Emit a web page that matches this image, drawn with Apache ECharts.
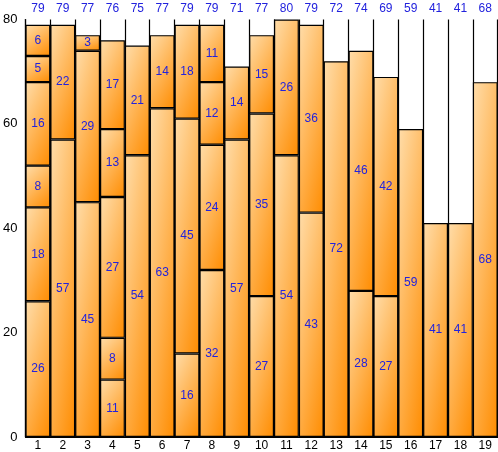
<!DOCTYPE html>
<html><head><meta charset="utf-8">
<script src="https://cdn.jsdelivr.net/npm/echarts@6/dist/echarts.min.js"></script>
<style>html,body{margin:0;padding:0;background:#fff}#c{width:498px;height:452px}</style>
</head><body><div id="c"></div>
<script>
var categories = ['1','2','3','4','5','6','7','8','9','10','11','12','13','14','15','16','17','18','19'];
var totals = [79,79,77,76,75,77,79,79,71,77,80,79,72,74,69,59,41,41,68];
var level1 = [26,57,45,11,54,63,16,32,57,27,54,43,72,28,27,59,41,41,68];
var level2 = [18,22,29,8,21,14,45,24,14,35,26,36,null,46,42,null,null,null,null];
var level3 = [8,null,3,27,null,null,18,12,null,15,null,null,null,null,null,null,null,null,null];
var level4 = [16,null,null,13,null,null,null,11,null,null,null,null,null,null,null,null,null,null,null];
var level5 = [5,null,null,17,null,null,null,null,null,null,null,null,null,null,null,null,null,null,null];
var level6 = [6,null,null,null,null,null,null,null,null,null,null,null,null,null,null,null,null,null,null];
var yTicks = {min:0, max:80, interval:20};

var FONT = '"Liberation Sans", Arial, sans-serif';
var chart = echarts.init(document.getElementById('c'));
var levels = [level1,level2,level3,level4,level5,level6];
var stops = [{offset:0,color:'#FFDDAA'},{offset:1,color:'#FF8C00'}];
var WA = 0.38, WB = 0.62; // horizontal / vertical weight of the fill gradient

function makeSeries(pxPerUnit, catW){
  return levels.map(function(d,i){
    var data = d.map(function(v){
      if (v == null) return null;
      if (!pxPerUnit) return v;
      var w = catW, h = Math.max(1, v*pxPerUnit);
      var k = 1/(WA*WA/(w*w) + WB*WB/(h*h));
      var x2 = k*WA/(w*w), y2 = k*WB/(h*h);
      return {value:v, itemStyle:{color:new echarts.graphic.LinearGradient(0,0,x2,y2,stops)}};
    });
    return {
      type:'bar', name:'L'+(i+1), stack:'s', data:data, barWidth:'100%', barGap:'0%',
      itemStyle:{color:'#FFB050', borderColor:'#000', borderWidth:1.2},
      label:{show:true, position:'inside', color:'#2222DD', fontSize:12, fontFamily:FONT},
      emphasis:{disabled:true}, animation:false
    };
  });
}
chart.setOption({
  animation:false,
  grid:{left:22.7, right:0.3, top:19.5, bottom:14.5, containLabel:false},
  xAxis:[{
    type:'category', data:categories, position:'bottom', boundaryGap:true,
    axisLine:{show:true, lineStyle:{color:'#000', width:1.2}},
    axisTick:{show:false},
    axisLabel:{color:'#000', fontSize:12, margin:3, fontFamily:FONT, interval:0},
    splitLine:{show:true, interval:0, lineStyle:{color:'#000', width:1.2}}
  },{
    type:'category', data:totals, position:'top', boundaryGap:true,
    axisLine:{show:false}, axisTick:{show:false},
    axisLabel:{color:'#2222DD', fontSize:12, margin:5, fontFamily:FONT, interval:0},
    splitLine:{show:false}
  }],
  yAxis:{
    type:'value', min:yTicks.min, max:yTicks.max, interval:yTicks.interval,
    axisLine:{show:true, lineStyle:{color:'#000', width:1.2}},
    axisTick:{show:false},
    axisLabel:{color:'#000', fontSize:13, margin:8, fontFamily:FONT},
    splitLine:{show:false}
  },
  series:makeSeries(0,0)
});
var y0 = chart.convertToPixel({yAxisIndex:0}, 0);
var y1 = chart.convertToPixel({yAxisIndex:0}, 1);
var xa = chart.convertToPixel({xAxisIndex:0}, categories[0]);
var xb = chart.convertToPixel({xAxisIndex:0}, categories[1]);
chart.setOption({series:makeSeries(Math.abs(y0-y1), Math.abs(xb-xa))});
</script></body></html>
